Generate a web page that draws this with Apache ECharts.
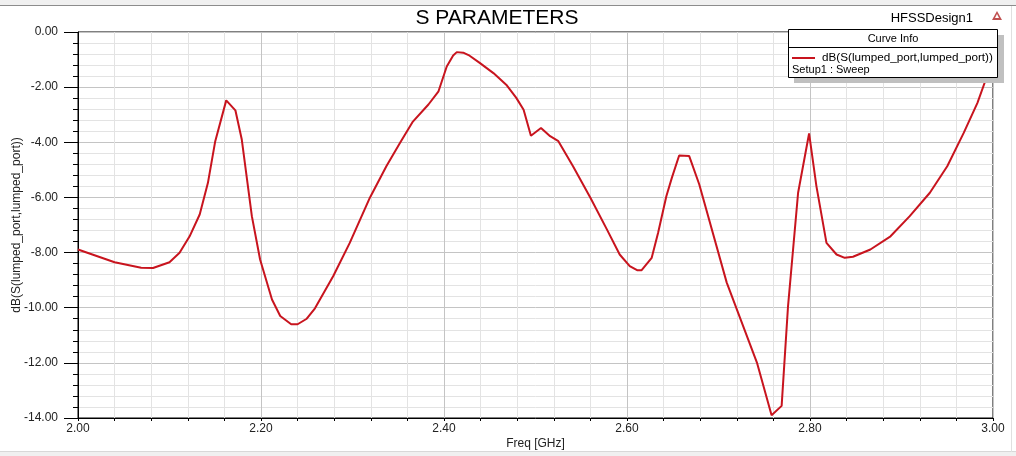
<!DOCTYPE html>
<html>
<head>
<meta charset="utf-8">
<script src="https://cdn.jsdelivr.net/npm/echarts@6/dist/echarts.min.js"></script>
<style>
html,body{margin:0;padding:0;background:#fff;}
#c{width:1016px;height:456px;}
</style>
</head>
<body>
<div id="c"></div>
<script>
const freqGHz = [2.000,2.040,2.069,2.082,2.100,2.111,2.122,2.133,2.142,2.150,2.162,2.172,2.179,2.190,2.199,2.212,2.221,2.233,2.240,2.250,2.259,2.279,2.297,2.319,2.337,2.352,2.366,2.383,2.394,2.403,2.410,2.414,2.421,2.428,2.439,2.454,2.468,2.479,2.487,2.495,2.506,2.516,2.525,2.541,2.560,2.578,2.592,2.603,2.611,2.616,2.627,2.634,2.643,2.649,2.657,2.668,2.679,2.709,2.742,2.758,2.769,2.776,2.787,2.799,2.807,2.818,2.829,2.838,2.847,2.866,2.888,2.909,2.931,2.950,2.968,2.983,2.994,3.000];
const s11dB = [-7.89,-8.35,-8.55,-8.56,-8.35,-8.01,-7.41,-6.62,-5.47,-3.96,-2.48,-2.84,-3.90,-6.68,-8.25,-9.70,-10.30,-10.60,-10.60,-10.40,-10.02,-8.85,-7.65,-6.01,-4.87,-4.02,-3.25,-2.63,-2.15,-1.25,-0.85,-0.73,-0.75,-0.86,-1.12,-1.49,-1.91,-2.39,-2.82,-3.76,-3.48,-3.78,-3.96,-4.87,-6.01,-7.16,-8.07,-8.49,-8.64,-8.64,-8.19,-7.28,-5.96,-5.29,-4.48,-4.50,-5.53,-9.09,-11.99,-13.90,-13.56,-9.94,-5.83,-3.68,-5.59,-7.65,-8.07,-8.19,-8.15,-7.89,-7.41,-6.68,-5.83,-4.87,-3.66,-2.57,-1.55,-1.15];
const titleText = 'S PARAMETERS';
const designName = 'HFSSDesign1';
const seriesName = 'dB(S(lumped_port,lumped_port))';
const setupName = 'Setup1 : Sweep';
const xAxisName = 'Freq [GHz]';
const yAxisName = 'dB(S(lumped_port,lumped_port))';

const FONT = '"Liberation Sans", Arial, sans-serif';
const LINE = '#c8141e';
const data = freqGHz.map((f, i) => [f, s11dB[i]]);

const chart = echarts.init(document.getElementById('c'), null, {renderer: 'canvas'});
chart.setOption({
  backgroundColor: '#ffffff',
  animation: false,
  textStyle: {fontFamily: FONT},
  grid: {left: 78, right: 23, top: 32, bottom: 38, containLabel: false, outerBoundsMode: 'none',
         show: true, borderColor: '#000', borderWidth: 1, backgroundColor: 'transparent'},
  xAxis: {
    type: 'value', min: 2, max: 3, interval: 0.2,
    name: xAxisName, nameLocation: 'middle', nameGap: 20, nameMoveOverlap: false,
    nameTextStyle: {fontFamily: FONT, fontSize: 12, color: '#222'},
    axisLine: {show: true, onZero: false, lineStyle: {color: '#000', width: 1}},
    axisTick: {show: true, length: 3, lineStyle: {color: '#000'}},
    minorTick: {show: true, splitNumber: 5, length: 3, lineStyle: {color: '#000'}},
    axisLabel: {fontFamily: FONT, fontSize: 12, color: '#222', margin: 5, formatter: v => v.toFixed(2)},
    splitLine: {show: true, lineStyle: {color: '#c4c4c4', width: 1}},
    minorSplitLine: {show: true, lineStyle: {color: '#e3e3e3', width: 1}}
  },
  yAxis: {
    type: 'value', min: -14, max: 0, interval: 2,
    name: yAxisName, nameLocation: 'middle', nameGap: 55, nameMoveOverlap: false,
    nameTextStyle: {fontFamily: FONT, fontSize: 12, color: '#222'},
    axisLine: {show: true, onZero: false, lineStyle: {color: '#000', width: 1}},
    axisTick: {show: true, length: 14, lineStyle: {color: '#000'}},
    minorTick: {show: true, splitNumber: 5, length: 5, lineStyle: {color: '#000'}},
    axisLabel: {fontFamily: FONT, fontSize: 12, color: '#222', margin: 20, formatter: v => v.toFixed(2)},
    splitLine: {show: true, lineStyle: {color: '#c4c4c4', width: 1}},
    minorSplitLine: {show: true, lineStyle: {color: '#e3e3e3', width: 1}}
  },
  series: [{
    name: seriesName, type: 'line', data: data, showSymbol: false, smooth: false,
    lineStyle: {color: LINE, width: 2}, z: 3
  }],
  graphic: [
    {type: 'rect', shape: {x: 0, y: 0, width: 1016, height: 5}, style: {fill: '#f0f0f0'}, z: 50, silent: true},
    {type: 'line', shape: {x1: 0, y1: 5.5, x2: 1016, y2: 5.5}, style: {stroke: '#8c8c8c', lineWidth: 1}, z: 50, silent: true},
    {type: 'rect', shape: {x: 0, y: 452, width: 1016, height: 4}, style: {fill: '#f0f0f0'}, z: 50, silent: true},
    {type: 'line', shape: {x1: 0, y1: 451.5, x2: 1016, y2: 451.5}, style: {stroke: '#d8d8d8', lineWidth: 1}, z: 50, silent: true},
    {type: 'line', shape: {x1: 1011.5, y1: 6, x2: 1011.5, y2: 452}, style: {stroke: '#e0e0e0', lineWidth: 1}, z: 50, silent: true},
    {type: 'text', x: 497, y: 18, style: {text: titleText, font: '21px ' + FONT, fill: '#000', textAlign: 'center', textVerticalAlign: 'middle'}, z: 50},
    {type: 'text', x: 973, y: 18, style: {text: designName, font: '13px ' + FONT, fill: '#000', textAlign: 'right', textVerticalAlign: 'middle'}, z: 50},
    {type: 'polygon', shape: {points: [[997, 11], [992, 20], [1002, 20]]}, style: {fill: '#c05050'}, z: 50},
    {type: 'polygon', shape: {points: [[997, 14], [995, 18], [999, 18]]}, style: {fill: '#ffffff'}, z: 51},
    {type: 'rect', shape: {x: 794, y: 35, width: 210, height: 48}, style: {fill: '#c0c0c0'}, z: 100},
    {type: 'rect', shape: {x: 788.5, y: 29.5, width: 209, height: 48}, style: {fill: '#ffffff', stroke: '#000', lineWidth: 1}, z: 101},
    {type: 'line', shape: {x1: 788.5, y1: 47.5, x2: 997.5, y2: 47.5}, style: {stroke: '#000', lineWidth: 1}, z: 102},
    {type: 'text', x: 893, y: 39, style: {text: 'Curve Info', font: '11px ' + FONT, fill: '#000', textAlign: 'center', textVerticalAlign: 'middle'}, z: 102},
    {type: 'line', shape: {x1: 792, y1: 58, x2: 815, y2: 58}, style: {stroke: LINE, lineWidth: 2}, z: 102},
    {type: 'text', x: 822, y: 58, style: {text: seriesName, font: '11.7px ' + FONT, fill: '#000', textAlign: 'left', textVerticalAlign: 'middle'}, z: 102},
    {type: 'text', x: 792, y: 70, style: {text: setupName, font: '11px ' + FONT, fill: '#000', textAlign: 'left', textVerticalAlign: 'middle'}, z: 102}
  ]
});
</script>
</body>
</html>
